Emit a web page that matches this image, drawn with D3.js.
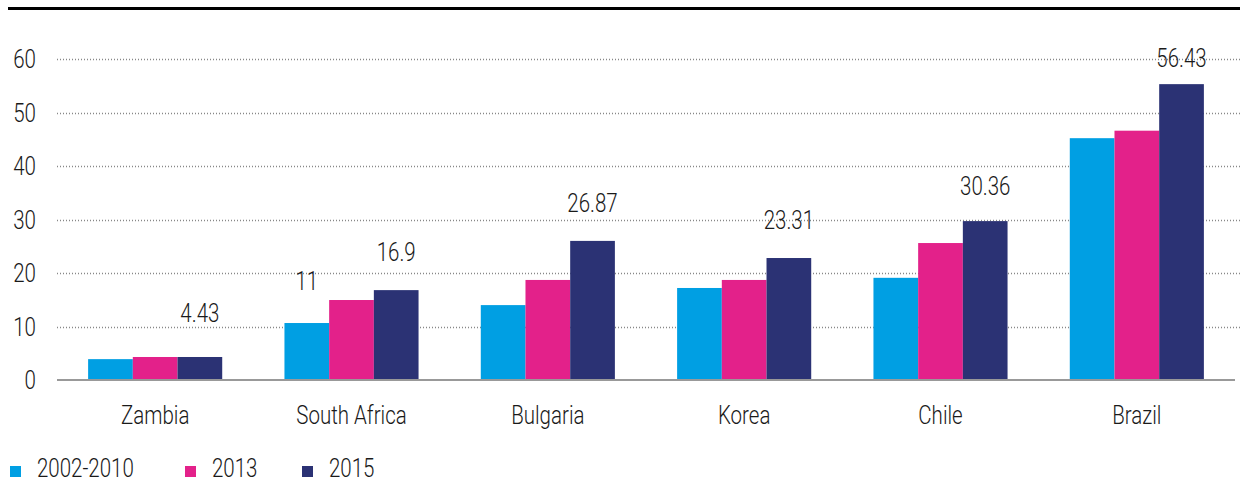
<!DOCTYPE html>
<html>
<head>
<meta charset="utf-8">
<script src="https://cdn.jsdelivr.net/npm/d3@7"></script>
<style>
  html, body { margin: 0; padding: 0; background: #fff; }
  svg text { font-family: "Roboto", "Liberation Sans", sans-serif; font-weight: 300; fill: #1a1a1a; }
</style>
</head>
<body>
<svg id="chart" width="1240" height="483"></svg>
<script>
const categories = ["Zambia", "South Africa", "Bulgaria", "Korea", "Chile", "Brazil"];
const seriesNames = ["2002-2010", "2013", "2015"];
const seriesColors = ["#009fe3", "#e3218a", "#2b3274"];
const values2002_2010 = [3.9, 10.65, 14.0, 17.2, 19.1, 45.2];
const values2013 = [4.3, 14.95, 18.7, 18.7, 25.6, 46.6];
const values2015 = [4.3, 16.8, 26.0, 22.8, 29.7, 55.3];
const yTicks = [0, 10, 20, 30, 40, 50, 60];
// data labels
const labelCats = ["Zambia", "South Africa", "South Africa", "Bulgaria", "Korea", "Chile", "Brazil"];
const labelSeries = [2, 0, 2, 2, 2, 2, 2];
const labelTexts = ["4.43", "11", "16.9", "26.87", "23.31", "30.36", "56.43"];
const labelValues = [4.43, 11, 16.9, 26.87, 23.31, 30.36, 56.43];

const seriesValues = [values2002_2010, values2013, values2015];
const SX = 0.82; // condensed look
const FS = 25;

const svg = d3.select("#chart");

const x0 = d3.scaleBand().domain(categories).range([57, 1235]).paddingInner(0.317).paddingOuter(0.1585);
const x1 = d3.scaleBand().domain(d3.range(seriesNames.length)).range([0, x0.bandwidth()]);
const y = d3.scaleLinear().domain([0, 60]).range([380, 59]);
const labelY = d3.scaleLinear().domain([0, 60]).range([y(0) - 36, y(60) - 10]);

function place(sel, fx, fy) {
  sel.attr("transform", (d, i) => `translate(${fx(d, i)},${fy(d, i)}) scale(${SX},1)`)
     .attr("font-size", FS);
}

// top rule
svg.append("line").attr("x1", 8).attr("x2", 1240).attr("y1", 8.5).attr("y2", 8.5)
  .attr("stroke", "#000").attr("stroke-width", 3);

// gridlines
svg.append("g").selectAll("line").data(yTicks.filter(d => d > 0)).join("line")
  .attr("x1", 57).attr("x2", 1240)
  .attr("y1", d => Math.round(y(d)) + 0.5).attr("y2", d => Math.round(y(d)) + 0.5)
  .attr("stroke", "#888").attr("stroke-width", 1.5).attr("stroke-dasharray", "1,2");

// y tick labels
svg.append("g").selectAll("text").data(yTicks).join("text")
  .attr("dy", "0.36em").attr("text-anchor", "end").text(d => d)
  .call(place, () => 36, d => y(d));

// bars
const groups = svg.append("g").selectAll("g").data(categories).join("g")
  .attr("transform", d => `translate(${x0(d)},0)`);
groups.selectAll("rect")
  .data((c, i) => seriesValues.map((vals, s) => ({ s, v: vals[i] })))
  .join("rect")
  .attr("x", d => x1(d.s))
  .attr("width", x1.bandwidth())
  .attr("y", d => y(d.v))
  .attr("height", d => y(0) - y(d.v))
  .attr("fill", d => seriesColors[d.s]);

// baseline
svg.append("line").attr("x1", 57).attr("x2", 1235).attr("y1", y(0)).attr("y2", y(0))
  .attr("stroke", "#999").attr("stroke-width", 2);

// category labels
svg.append("g").selectAll("text").data(categories).join("text")
  .attr("text-anchor", "middle").text(d => d)
  .call(place, d => x0(d) + x0.bandwidth() / 2, () => 424);

// data labels
svg.append("g").selectAll("text").data(labelTexts).join("text")
  .attr("text-anchor", "middle").text(d => d)
  .call(place, (d, i) => x0(labelCats[i]) + x1(labelSeries[i]) + x1.bandwidth() / 2,
               (d, i) => labelY(labelValues[i]));

// legend
const legendX = [10, 185, 302];
const legend = svg.append("g").selectAll("g").data(seriesNames).join("g")
  .attr("transform", (d, i) => `translate(${legendX[i]},0)`);
legend.append("rect").attr("x", 0).attr("y", 466).attr("width", 11).attr("height", 11)
  .attr("fill", (d, i) => seriesColors[i]);
legend.append("text").text(d => d)
  .call(place, () => 27, () => 477);
</script>
</body>
</html>
